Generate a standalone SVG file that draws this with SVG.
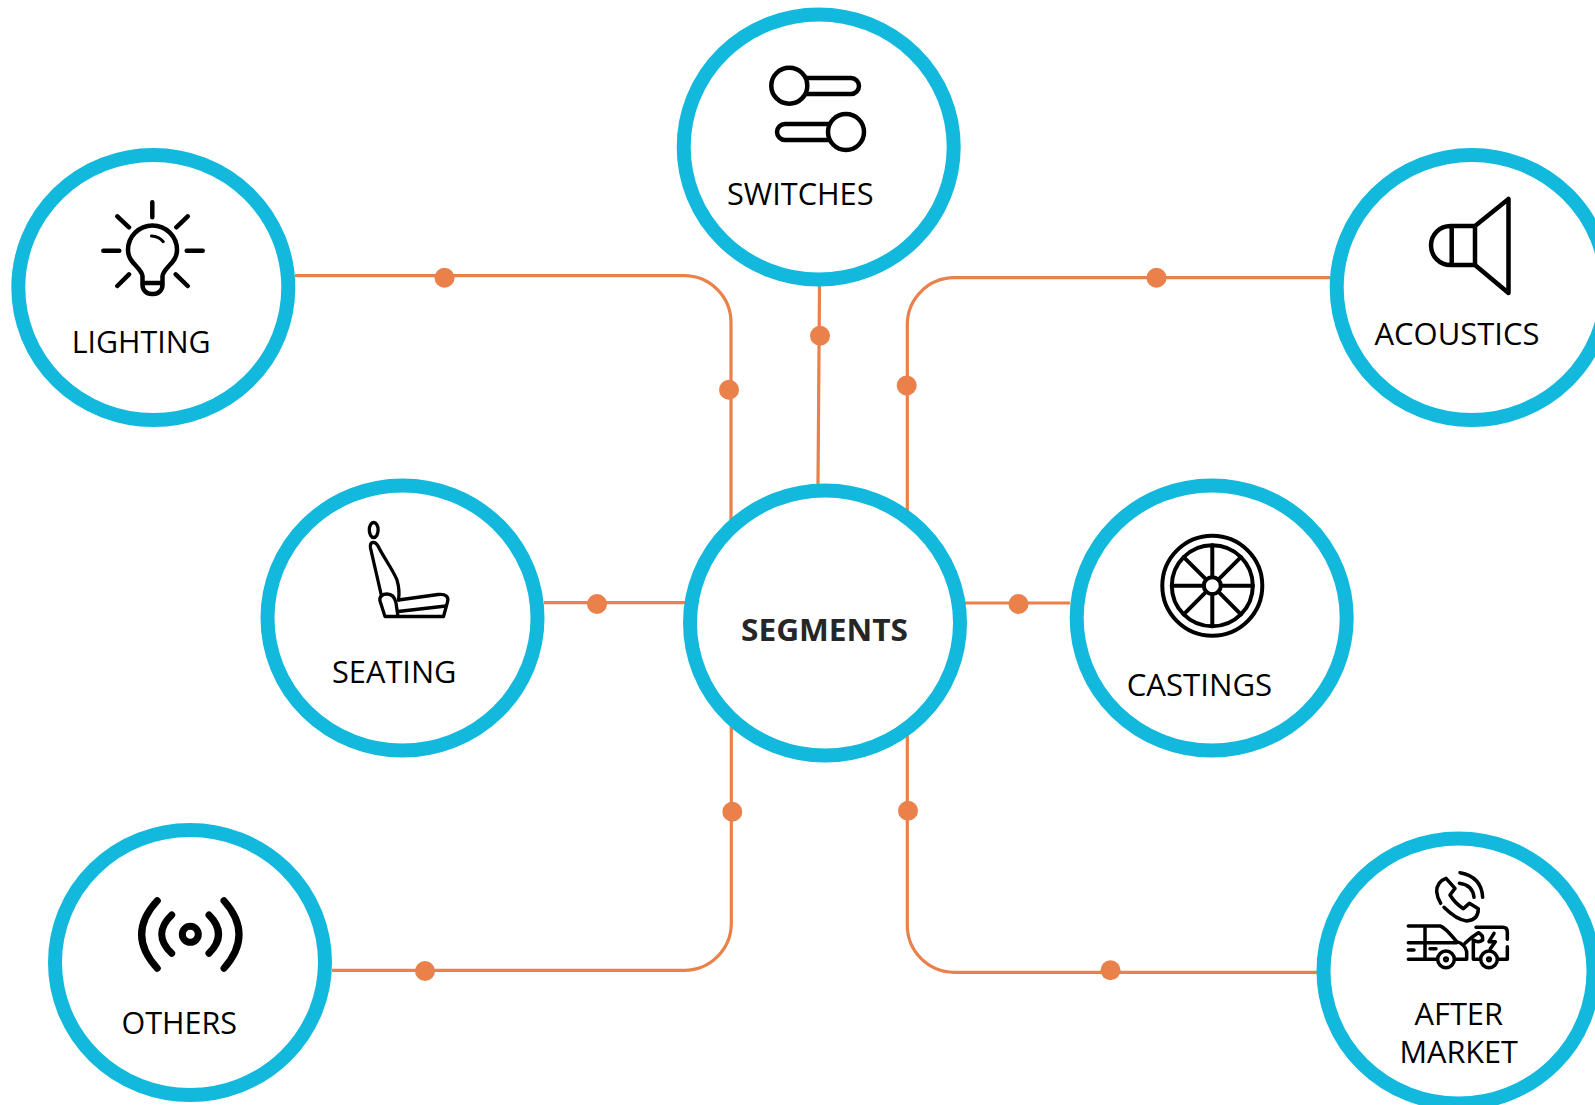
<svg xmlns="http://www.w3.org/2000/svg" width="1595" height="1105" viewBox="0 0 1595 1105">
<style>
.ring{fill:#fff;stroke:#12b9dc;stroke-width:14}
.wire{fill:none;stroke:#ea804a;stroke-width:3.200}
.dot{fill:#ea804a}
.lbl{font-family:"Open Sans","Noto Sans",sans-serif;font-size:31.500px;fill:#000}
.ico{fill:none;stroke:#000;stroke-width:4.500;stroke-linecap:round;stroke-linejoin:round}
</style>
<rect width="1595" height="1105" fill="#fff"/>
<g id="connectors">
<path class="wire" d="M295 275.700H684A47 47 0 0 1 731 322.700V530"/>
<path class="wire" d="M819.500 286L818 484"/>
<path class="wire" d="M1330 277.700H954A47 47 0 0 0 907.300 324.700V520"/>
<path class="wire" d="M544 602.700H690"/>
<path class="wire" d="M960 603H1070"/>
<path class="wire" d="M332 970.300H684A47 47 0 0 0 731.300 923.300V720"/>
<path class="wire" d="M1317 972.300H954A47 47 0 0 1 907.300 925.300V730"/>
<circle class="dot" cx="444.500" cy="277.800" r="10"/>
<circle class="dot" cx="729" cy="389.800" r="10"/>
<circle class="dot" cx="820" cy="335.800" r="10"/>
<circle class="dot" cx="1156.500" cy="277.800" r="10"/>
<circle class="dot" cx="906.700" cy="385.500" r="10"/>
<circle class="dot" cx="597" cy="604" r="10"/>
<circle class="dot" cx="1018.500" cy="604" r="10"/>
<circle class="dot" cx="425" cy="971" r="10"/>
<circle class="dot" cx="732.300" cy="811.800" r="10"/>
<circle class="dot" cx="1110.500" cy="970.300" r="10"/>
<circle class="dot" cx="908" cy="810.800" r="10"/>
</g>
<g id="node-switches">
<ellipse class="ring" cx="818.700" cy="147" rx="135" ry="132.500"/>
<path class="ico" d="M807 78H851a8 8 0 0 1 0 16H807"/>
<circle class="ico" cx="789.300" cy="85.700" r="18"/>
<path class="ico" d="M828 124H785a8 8 0 0 0 0 16H828"/>
<circle class="ico" cx="846" cy="132" r="18"/>
<text class="lbl" x="727" y="204.700" textLength="146.500" lengthAdjust="spacingAndGlyphs">SWITCHES</text>
</g>
<g id="node-lighting">
<ellipse class="ring" cx="153.300" cy="287.500" rx="135" ry="132.500"/>
<path class="ico" d="M152.300 202.300V217.300M103.300 250.700H119.300M186.700 250.700H202.700M117.300 216.300L129 227.300M187.700 216.300L176.300 227.300M117.300 286L129 274.300M187.700 286L175.700 274.300"/>
<path class="ico" d="M142.500 276C141 267 128 263 128 250A24.500 24.500 0 0 1 177 250C177 263 164 267 162.500 276V285A9 9 0 0 1 153.500 294H151.500A9 9 0 0 1 142.500 285ZM142.500 283H162.500"/>
<path class="ico" style="stroke-width:3" d="M151.500 236Q159 236.500 163.300 241.700"/>
<text class="lbl" x="71.700" y="353" textLength="139" lengthAdjust="spacingAndGlyphs">LIGHTING</text>
</g>
<g id="node-acoustics">
<ellipse class="ring" cx="1471.700" cy="287.500" rx="135" ry="132.500"/>
<path class="ico" d="M1475 226L1508.500 199V293L1475 265ZM1475 226H1450.500A19.500 19.500 0 0 0 1450.500 265H1475M1451.700 226V265"/>
<text class="lbl" x="1374.500" y="345.200" textLength="165" lengthAdjust="spacingAndGlyphs">ACOUSTICS</text>
</g>
<g id="node-seating">
<ellipse class="ring" cx="402.500" cy="618" rx="135" ry="132.500"/>
<g class="ico" style="stroke-width:3.300">
<ellipse cx="373.700" cy="530" rx="4.400" ry="7.500"/>
<path d="M381.500 596L370.500 548C369.500 541 375 541 378 546C384 558 393 570 397 580C399 587 399.500 594 398.500 600"/>
<path d="M398.500 600L438 594.500C446 593.500 449 597 447.500 602L443.500 616.500H385L380 601C379 596 383 594 387 594C392 594 395 598 396 603L398 616.500"/>
<path d="M398 611.500L446 606"/>
</g>
<text class="lbl" x="332" y="683" textLength="124.500" lengthAdjust="spacingAndGlyphs">SEATING</text>
</g>
<g id="node-segments">
<ellipse class="ring" cx="825" cy="623" rx="135" ry="132.500"/>
<text x="741" y="641" textLength="167" lengthAdjust="spacingAndGlyphs" font-family="'Open Sans','Noto Sans',sans-serif" font-size="31" font-weight="700" fill="#262626">SEGMENTS</text>
</g>
<g id="node-castings">
<ellipse class="ring" cx="1211.700" cy="618" rx="135" ry="132.500"/>
<g class="ico" style="stroke-width:4">
<circle cx="1212.300" cy="585.700" r="50"/>
<circle cx="1212.300" cy="585.700" r="40.500"/>
<circle cx="1212.300" cy="585.700" r="8.500"/>
<path d="M1212.300 577.200V545.200M1212.300 594.200V626.200M1203.800 585.700H1171.800M1220.800 585.700H1252.800M1206.300 579.700L1183.700 557.100M1218.300 591.700L1240.900 614.300M1218.300 579.700L1240.900 557.100M1206.300 591.700L1183.700 614.300"/>
</g>
<text class="lbl" x="1126.700" y="695.700" textLength="145.500" lengthAdjust="spacingAndGlyphs">CASTINGS</text>
</g>
<g id="node-others">
<ellipse class="ring" cx="190" cy="962.500" rx="135" ry="132.500"/>
<g class="ico" style="stroke-width:7">
<circle cx="190.300" cy="934.300" r="8"/>
<path d="M171.700 915Q151.700 934.200 171.700 953.300M157.300 900.700Q126 934.500 157.300 968.300M209 915Q228 934.200 209 953.300M224 900.700Q254 934.500 224 968.300"/>
</g>
<text class="lbl" x="121.500" y="1033.700" textLength="115.500" lengthAdjust="spacingAndGlyphs">OTHERS</text>
</g>
<g id="node-aftermarket">
<ellipse class="ring" cx="1458.500" cy="971" rx="135" ry="132.500"/>
<g transform="translate(1310 820) scale(.33333)" fill="none" stroke="#000" stroke-width="10.500" stroke-linecap="round" stroke-linejoin="round">
<path d="M402 262Q440 300 470 303Q505 300 505 266L478 250L460 266Q435 250 420 225L435 205L408 175Q380 185 380 215Q382 235 392 250"/>
<path d="M450 158Q515 170 518 232M448 190Q488 195 492 232"/>
<path d="M295 318H390Q405 322 440 365Q465 372 470 395V418H438M295 368H440M345 318V418M295 418H380M295 390H312M360 386H378"/>
<circle cx="408" cy="418" r="25"/><circle cx="408" cy="418" r="4"/>
<path d="M465 370Q485 350 505 338Q520 345 518 360Q505 370 490 360V418H510"/>
<path d="M498 322H578Q592 322 592 336V358M592 380V418H566"/>
<path d="M552 340L537 365H556L541 386"/>
<circle cx="537" cy="418" r="25"/><circle cx="537" cy="418" r="4"/>
</g>
<text class="lbl" x="1414.500" y="1024.700" textLength="88.500" lengthAdjust="spacingAndGlyphs">AFTER</text>
<text class="lbl" x="1399.500" y="1063" textLength="118.500" lengthAdjust="spacingAndGlyphs">MARKET</text>
</g>
</svg>
